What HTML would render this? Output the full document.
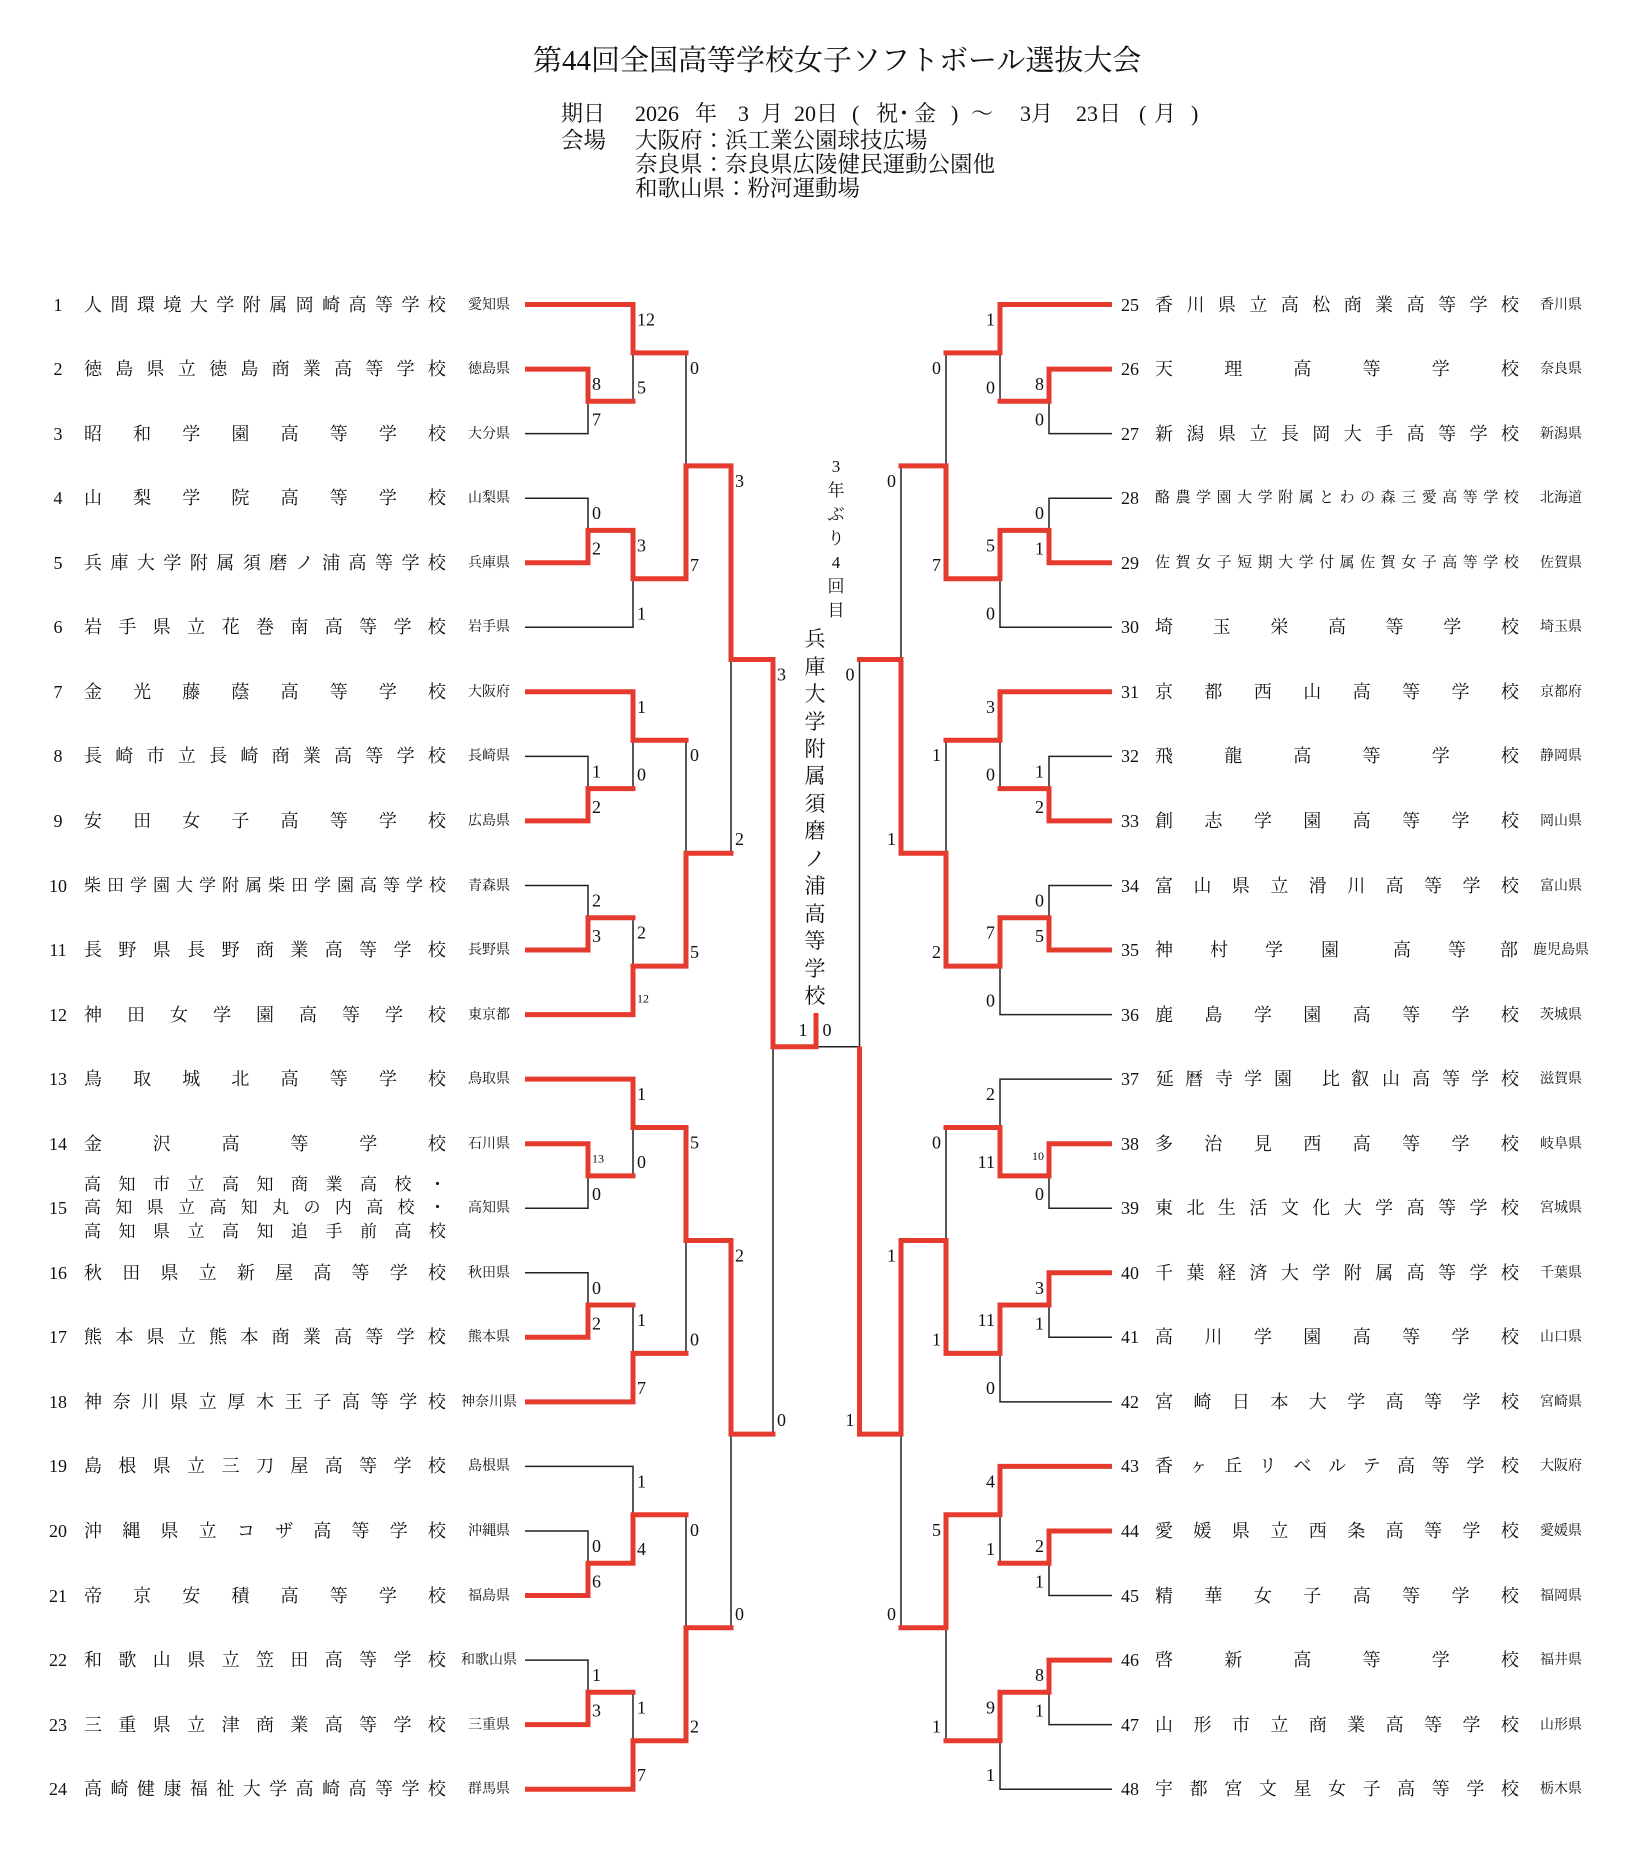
<!DOCTYPE html>
<html lang="ja"><head><meta charset="utf-8">
<style>
html,body{margin:0;padding:0;background:#fff}
body{width:1645px;height:1851px;position:relative;overflow:hidden;font-family:"Liberation Serif","Noto Serif CJK SC",serif;color:#111}
.t{position:absolute;white-space:nowrap;font-family:"Liberation Serif","Noto Serif CJK SC",serif}
.h{font-size:22px;line-height:30px}
.h2{font-size:22.5px;line-height:30px}
b{font-weight:normal}
.r{position:absolute;left:0;width:1645px;height:24px}
.r .no{position:absolute;top:0;width:40px;text-align:center;font-size:18px;line-height:24px}
.L .no{left:38px}.R .no{left:1110px}
.r .nm{position:absolute;top:0;height:24px;line-height:24px;display:flex;justify-content:space-between;font-size:18px;white-space:nowrap}
.L .nm{left:84px;width:362px}.R .nm{left:1155px;width:364px}
.r .pf{position:absolute;top:3px;width:80px;text-align:center;font-size:14px;line-height:20px;white-space:nowrap}
.L .pf{left:449px}.R .pf{left:1521px}
.r .sp{display:block}
.r .sp b{position:absolute;top:0}
.vt{position:absolute;width:30px;text-align:center}
</style></head>
<body>
<svg width="1645" height="1851" style="position:absolute;left:0;top:0">
<g fill="none" stroke="#222" stroke-width="1.5">
<path d="M525 304.5 H633 V401.3 M525 369.1 H588 V433.6 H525 M588 401.3 H633 M633 352.9 H686 V578.8 H633 M525 498.2 H588 V562.7 H525 M588 530.4 H633 M633 530.4 V627.3 H525 M686 465.9 H731"/>
<path d="M525 691.8 H633 V788.6 M525 756.4 H588 V820.9 H525 M588 788.6 H633 M633 740.2 H686 V966.1 H633 M525 885.5 H588 V950 H525 M588 917.7 H633 M633 917.7 V1014.6 H525 M686 853.2 H731"/>
<path d="M525 1079.1 H633 V1175.9 M525 1143.7 H588 V1208.2 H525 M588 1175.9 H633 M633 1127.5 H686 V1353.4 H633 M525 1272.8 H588 V1337.3 H525 M588 1305 H633 M633 1305 V1401.9 H525 M686 1240.5 H731"/>
<path d="M525 1466.4 H633 V1563.2 M525 1531 H588 V1595.5 H525 M588 1563.2 H633 M633 1514.8 H686 V1740.7 H633 M525 1660.1 H588 V1724.6 H525 M588 1692.3 H633 M633 1692.3 V1789.2 H525 M686 1627.8 H731"/>
<path d="M731 465.9 V853.2 M731 1240.5 V1627.8 M731 659.5 H773 V1434.1 H731 M773 1046.8 H859.5"/>
<path d="M1112 304.5 H1000 V401.3 M1112 369.1 H1049 V433.6 H1112 M1049 401.3 H1000 M1000 352.9 H946 V578.8 H1000 M1112 498.2 H1049 V562.7 H1112 M1049 530.4 H1000 M1000 530.4 V627.3 H1112 M946 465.9 H901"/>
<path d="M1112 691.8 H1000 V788.6 M1112 756.4 H1049 V820.9 H1112 M1049 788.6 H1000 M1000 740.2 H946 V966.1 H1000 M1112 885.5 H1049 V950 H1112 M1049 917.7 H1000 M1000 917.7 V1014.6 H1112 M946 853.2 H901"/>
<path d="M1112 1079.1 H1000 V1175.9 M1112 1143.7 H1049 V1208.2 H1112 M1049 1175.9 H1000 M1000 1127.5 H946 V1353.4 H1000 M1112 1272.8 H1049 V1337.3 H1112 M1049 1305 H1000 M1000 1305 V1401.9 H1112 M946 1240.5 H901"/>
<path d="M1112 1466.4 H1000 V1563.2 M1112 1531 H1049 V1595.5 H1112 M1049 1563.2 H1000 M1000 1514.8 H946 V1740.7 H1000 M1112 1660.1 H1049 V1724.6 H1112 M1049 1692.3 H1000 M1000 1692.3 V1789.2 H1112 M946 1627.8 H901"/>
<path d="M901 465.9 V853.2 M901 1240.5 V1627.8 M901 659.5 H859.5 V1434.1 H901"/>
</g>
<g fill="none" stroke="#e53b2f" stroke-width="5" stroke-linejoin="miter" stroke-linecap="square">
<path d="M527.5 369.1 H588 V401.3 H633"/>
<path d="M527.5 304.5 H633 V352.9 H686"/>
<path d="M527.5 562.7 H588 V530.4 H633 V578.8 H686 V465.9 H731 V659.5 H773 V1046.8 H816 V1015.5"/>
<path d="M527.5 820.9 H588 V788.6 H633"/>
<path d="M527.5 691.8 H633 V740.2 H686"/>
<path d="M527.5 950 H588 V917.7 H633"/>
<path d="M527.5 1014.6 H633 V966.1 H686 V853.2 H731"/>
<path d="M527.5 1143.7 H588 V1175.9 H633"/>
<path d="M527.5 1079.1 H633 V1127.5 H686 V1240.5 H731 V1434.1 H773"/>
<path d="M527.5 1337.3 H588 V1305 H633"/>
<path d="M527.5 1401.9 H633 V1353.4 H686"/>
<path d="M527.5 1595.5 H588 V1563.2 H633 V1514.8 H686"/>
<path d="M527.5 1724.6 H588 V1692.3 H633"/>
<path d="M527.5 1789.2 H633 V1740.7 H686 V1627.8 H731"/>
<path d="M1109.5 369.1 H1049 V401.3 H1000"/>
<path d="M1109.5 304.5 H1000 V352.9 H946"/>
<path d="M1109.5 562.7 H1049 V530.4 H1000 V578.8 H946 V465.9 H901"/>
<path d="M1109.5 820.9 H1049 V788.6 H1000"/>
<path d="M1109.5 691.8 H1000 V740.2 H946"/>
<path d="M1109.5 950 H1049 V917.7 H1000 V966.1 H946 V853.2 H901 V659.5 H859.5"/>
<path d="M1109.5 1143.7 H1049 V1175.9 H1000 V1127.5 H946"/>
<path d="M1109.5 1272.8 H1049 V1305 H1000 V1353.4 H946 V1240.5 H901 V1434.1 H859.5 V1049"/>
<path d="M1109.5 1531 H1049 V1563.2 H1000"/>
<path d="M1109.5 1466.4 H1000 V1514.8 H946 V1627.8 H901"/>
<path d="M1109.5 1660.1 H1049 V1692.3 H1000 V1740.7 H946"/>
</g>
<g font-family="Liberation Serif, Noto Serif CJK SC, serif" font-size="18" fill="#111">
<text x="592" y="390.1">8</text><text x="592" y="425.6">7</text><text x="637" y="325.5">12</text><text x="637" y="393.3">5</text>
<text x="592" y="519.2">0</text><text x="592" y="554.7">2</text><text x="637" y="551.4">3</text><text x="637" y="619.3">1</text>
<text x="690" y="373.9">0</text><text x="690" y="570.8">7</text>
<text x="592" y="777.4">1</text><text x="592" y="812.9">2</text><text x="637" y="712.8">1</text><text x="637" y="780.6">0</text>
<text x="592" y="906.5">2</text><text x="592" y="942">3</text><text x="637" y="938.7">2</text><text x="637" y="1002.6" font-size="12">12</text>
<text x="690" y="761.2">0</text><text x="690" y="958.1">5</text>
<text x="735" y="486.9">3</text><text x="735" y="845.2">2</text>
<text x="592" y="1162.3" font-size="12">13</text><text x="592" y="1200.2">0</text><text x="637" y="1100.1">1</text><text x="637" y="1167.9">0</text>
<text x="592" y="1293.8">0</text><text x="592" y="1329.3">2</text><text x="637" y="1326">1</text><text x="637" y="1393.9">7</text>
<text x="690" y="1148.5">5</text><text x="690" y="1345.4">0</text>
<text x="592" y="1552">0</text><text x="592" y="1587.5">6</text><text x="637" y="1487.4">1</text><text x="637" y="1555.2">4</text>
<text x="592" y="1681.1">1</text><text x="592" y="1716.6">3</text><text x="637" y="1713.3">1</text><text x="637" y="1781.2">7</text>
<text x="690" y="1535.8">0</text><text x="690" y="1732.7">2</text>
<text x="735" y="1261.5">2</text><text x="735" y="1619.8">0</text>
<text x="777" y="680.5">3</text><text x="777" y="1426.1">0</text>
<g text-anchor="end">
<text x="1044" y="390.1">8</text><text x="1044" y="425.6">0</text><text x="995" y="325.5">1</text><text x="995" y="393.3">0</text>
<text x="1044" y="519.2">0</text><text x="1044" y="554.7">1</text><text x="995" y="551.4">5</text><text x="995" y="619.3">0</text>
<text x="941" y="373.9">0</text><text x="941" y="570.8">7</text>
<text x="1044" y="777.4">1</text><text x="1044" y="812.9">2</text><text x="995" y="712.8">3</text><text x="995" y="780.6">0</text>
<text x="1044" y="906.5">0</text><text x="1044" y="942">5</text><text x="995" y="938.7">7</text><text x="995" y="1006.6">0</text>
<text x="941" y="761.2">1</text><text x="941" y="958.1">2</text>
<text x="896" y="486.9">0</text><text x="896" y="845.2">1</text>
<text x="1044" y="1160" font-size="12">10</text><text x="1044" y="1200.2">0</text><text x="995" y="1100.1">2</text><text x="995" y="1167.9">11</text>
<text x="1044" y="1293.8">3</text><text x="1044" y="1329.3">1</text><text x="995" y="1326">11</text><text x="995" y="1393.9">0</text>
<text x="941" y="1148.5">0</text><text x="941" y="1345.4">1</text>
<text x="1044" y="1552">2</text><text x="1044" y="1587.5">1</text><text x="995" y="1487.4">4</text><text x="995" y="1555.2">1</text>
<text x="1044" y="1681.1">8</text><text x="1044" y="1716.6">1</text><text x="995" y="1713.3">9</text><text x="995" y="1781.2">1</text>
<text x="941" y="1535.8">5</text><text x="941" y="1732.7">1</text>
<text x="896" y="1261.5">1</text><text x="896" y="1619.8">0</text>
<text x="854.5" y="680.5">0</text><text x="854.5" y="1426.1">1</text>
</g>
<text x="803" y="1036" text-anchor="middle">1</text><text x="827" y="1036" text-anchor="middle">0</text>
</g>
</svg>

<div class="t" style="left:533px;top:41px;font-size:29px;line-height:40px">第44回全国高等学校女子ソフトボール選抜大会</div>

<div class="t h" style="left:561px;top:99px">期日</div>
<div class="t h" style="left:635px;top:99px">2026</div>
<div class="t h" style="left:695px;top:99px">年</div>
<div class="t h" style="left:738px;top:99px">3</div>
<div class="t h" style="left:761px;top:99px">月</div>
<div class="t h" style="left:794px;top:99px">20日</div>
<div class="t h" style="left:852px;top:99px">(</div>
<div class="t h" style="left:876px;top:99px">祝</div>
<div class="t h" style="left:893px;top:99px">・</div>
<div class="t h" style="left:914px;top:99px">金</div>
<div class="t h" style="left:951px;top:99px">)</div>
<div class="t h" style="left:971px;top:99px">〜</div>
<div class="t h" style="left:1020px;top:99px">3月</div>
<div class="t h" style="left:1076px;top:99px">23</div>
<div class="t h" style="left:1099px;top:99px">日</div>
<div class="t h" style="left:1139px;top:99px">(</div>
<div class="t h" style="left:1154px;top:99px">月</div>
<div class="t h" style="left:1191px;top:99px">)</div>
<div class="t h2" style="left:561px;top:126px">会場</div>
<div class="t h2" style="left:635px;top:126px">大阪府：浜工業公園球技広場</div>
<div class="t h2" style="left:635px;top:150px">奈良県：奈良県広陵健民運動公園他</div>
<div class="t h2" style="left:635px;top:173.5px">和歌山県：粉河運動場</div>

<div class="vt" style="left:821px;top:454.5px;font-size:17px;line-height:24px">3<br>年<br>ぶ<br>り<br>4<br>回<br>目</div>
<div class="vt" style="left:800px;top:626.3px;font-size:21px;line-height:27.44px">兵<br>庫<br>大<br>学<br>附<br>属<br>須<br>磨<br>ノ<br>浦<br>高<br>等<br>学<br>校</div>

<!-- LEFT ROWS -->
<div class="r L" style="top:292.5px"><span class="no">1</span><div class="nm"><b>人</b><b>間</b><b>環</b><b>境</b><b>大</b><b>学</b><b>附</b><b>属</b><b>岡</b><b>崎</b><b>高</b><b>等</b><b>学</b><b>校</b></div><span class="pf">愛知県</span></div>
<div class="r L" style="top:357.1px"><span class="no">2</span><div class="nm"><b>徳</b><b>島</b><b>県</b><b>立</b><b>徳</b><b>島</b><b>商</b><b>業</b><b>高</b><b>等</b><b>学</b><b>校</b></div><span class="pf">徳島県</span></div>
<div class="r L" style="top:421.6px"><span class="no">3</span><div class="nm"><b>昭</b><b>和</b><b>学</b><b>園</b><b>高</b><b>等</b><b>学</b><b>校</b></div><span class="pf">大分県</span></div>
<div class="r L" style="top:486.2px"><span class="no">4</span><div class="nm"><b>山</b><b>梨</b><b>学</b><b>院</b><b>高</b><b>等</b><b>学</b><b>校</b></div><span class="pf">山梨県</span></div>
<div class="r L" style="top:550.7px"><span class="no">5</span><div class="nm"><b>兵</b><b>庫</b><b>大</b><b>学</b><b>附</b><b>属</b><b>須</b><b>磨</b><b>ノ</b><b>浦</b><b>高</b><b>等</b><b>学</b><b>校</b></div><span class="pf">兵庫県</span></div>
<div class="r L" style="top:615.3px"><span class="no">6</span><div class="nm"><b>岩</b><b>手</b><b>県</b><b>立</b><b>花</b><b>巻</b><b>南</b><b>高</b><b>等</b><b>学</b><b>校</b></div><span class="pf">岩手県</span></div>
<div class="r L" style="top:679.8px"><span class="no">7</span><div class="nm"><b>金</b><b>光</b><b>藤</b><b>蔭</b><b>高</b><b>等</b><b>学</b><b>校</b></div><span class="pf">大阪府</span></div>
<div class="r L" style="top:744.4px"><span class="no">8</span><div class="nm"><b>長</b><b>崎</b><b>市</b><b>立</b><b>長</b><b>崎</b><b>商</b><b>業</b><b>高</b><b>等</b><b>学</b><b>校</b></div><span class="pf">長崎県</span></div>
<div class="r L" style="top:808.9px"><span class="no">9</span><div class="nm"><b>安</b><b>田</b><b>女</b><b>子</b><b>高</b><b>等</b><b>学</b><b>校</b></div><span class="pf">広島県</span></div>
<div class="r L" style="top:873.5px"><span class="no">10</span><div class="nm" style="font-size:17px"><b>柴</b><b>田</b><b>学</b><b>園</b><b>大</b><b>学</b><b>附</b><b>属</b><b>柴</b><b>田</b><b>学</b><b>園</b><b>高</b><b>等</b><b>学</b><b>校</b></div><span class="pf">青森県</span></div>
<div class="r L" style="top:938px"><span class="no">11</span><div class="nm"><b>長</b><b>野</b><b>県</b><b>長</b><b>野</b><b>商</b><b>業</b><b>高</b><b>等</b><b>学</b><b>校</b></div><span class="pf">長野県</span></div>
<div class="r L" style="top:1002.6px"><span class="no">12</span><div class="nm"><b>神</b><b>田</b><b>女</b><b>学</b><b>園</b><b>高</b><b>等</b><b>学</b><b>校</b></div><span class="pf">東京都</span></div>
<div class="r L" style="top:1067.1px"><span class="no">13</span><div class="nm"><b>鳥</b><b>取</b><b>城</b><b>北</b><b>高</b><b>等</b><b>学</b><b>校</b></div><span class="pf">鳥取県</span></div>
<div class="r L" style="top:1131.7px"><span class="no">14</span><div class="nm"><b>金</b><b>沢</b><b>高</b><b>等</b><b>学</b><b>校</b></div><span class="pf">石川県</span></div>
<div class="r L" style="top:1196.2px"><span class="no">15</span>
<div class="nm" style="top:-23.2px;font-size:17px"><b>高</b><b>知</b><b>市</b><b>立</b><b>高</b><b>知</b><b>商</b><b>業</b><b>高</b><b>校</b><b>・</b></div>
<div class="nm" style="top:0;font-size:17px"><b>高</b><b>知</b><b>県</b><b>立</b><b>高</b><b>知</b><b>丸</b><b>の</b><b>内</b><b>高</b><b>校</b><b>・</b></div>
<div class="nm" style="top:23.5px;font-size:17px"><b>高</b><b>知</b><b>県</b><b>立</b><b>高</b><b>知</b><b>追</b><b>手</b><b>前</b><b>高</b><b>校</b></div>
<span class="pf">高知県</span></div>
<div class="r L" style="top:1260.8px"><span class="no">16</span><div class="nm"><b>秋</b><b>田</b><b>県</b><b>立</b><b>新</b><b>屋</b><b>高</b><b>等</b><b>学</b><b>校</b></div><span class="pf">秋田県</span></div>
<div class="r L" style="top:1325.3px"><span class="no">17</span><div class="nm"><b>熊</b><b>本</b><b>県</b><b>立</b><b>熊</b><b>本</b><b>商</b><b>業</b><b>高</b><b>等</b><b>学</b><b>校</b></div><span class="pf">熊本県</span></div>
<div class="r L" style="top:1389.9px"><span class="no">18</span><div class="nm"><b>神</b><b>奈</b><b>川</b><b>県</b><b>立</b><b>厚</b><b>木</b><b>王</b><b>子</b><b>高</b><b>等</b><b>学</b><b>校</b></div><span class="pf">神奈川県</span></div>
<div class="r L" style="top:1454.4px"><span class="no">19</span><div class="nm"><b>島</b><b>根</b><b>県</b><b>立</b><b>三</b><b>刀</b><b>屋</b><b>高</b><b>等</b><b>学</b><b>校</b></div><span class="pf">島根県</span></div>
<div class="r L" style="top:1519px"><span class="no">20</span><div class="nm"><b>沖</b><b>縄</b><b>県</b><b>立</b><b>コ</b><b>ザ</b><b>高</b><b>等</b><b>学</b><b>校</b></div><span class="pf">沖縄県</span></div>
<div class="r L" style="top:1583.5px"><span class="no">21</span><div class="nm"><b>帝</b><b>京</b><b>安</b><b>積</b><b>高</b><b>等</b><b>学</b><b>校</b></div><span class="pf">福島県</span></div>
<div class="r L" style="top:1648.1px"><span class="no">22</span><div class="nm"><b>和</b><b>歌</b><b>山</b><b>県</b><b>立</b><b>笠</b><b>田</b><b>高</b><b>等</b><b>学</b><b>校</b></div><span class="pf">和歌山県</span></div>
<div class="r L" style="top:1712.6px"><span class="no">23</span><div class="nm"><b>三</b><b>重</b><b>県</b><b>立</b><b>津</b><b>商</b><b>業</b><b>高</b><b>等</b><b>学</b><b>校</b></div><span class="pf">三重県</span></div>
<div class="r L" style="top:1777.2px"><span class="no">24</span><div class="nm"><b>高</b><b>崎</b><b>健</b><b>康</b><b>福</b><b>祉</b><b>大</b><b>学</b><b>高</b><b>崎</b><b>高</b><b>等</b><b>学</b><b>校</b></div><span class="pf">群馬県</span></div>

<!-- RIGHT ROWS -->
<div class="r R" style="top:292.5px"><span class="no">25</span><div class="nm"><b>香</b><b>川</b><b>県</b><b>立</b><b>高</b><b>松</b><b>商</b><b>業</b><b>高</b><b>等</b><b>学</b><b>校</b></div><span class="pf">香川県</span></div>
<div class="r R" style="top:357.1px"><span class="no">26</span><div class="nm"><b>天</b><b>理</b><b>高</b><b>等</b><b>学</b><b>校</b></div><span class="pf">奈良県</span></div>
<div class="r R" style="top:421.6px"><span class="no">27</span><div class="nm"><b>新</b><b>潟</b><b>県</b><b>立</b><b>長</b><b>岡</b><b>大</b><b>手</b><b>高</b><b>等</b><b>学</b><b>校</b></div><span class="pf">新潟県</span></div>
<div class="r R" style="top:486.2px"><span class="no">28</span><div class="nm" style="font-size:15px"><b>酪</b><b>農</b><b>学</b><b>園</b><b>大</b><b>学</b><b>附</b><b>属</b><b>と</b><b>わ</b><b>の</b><b>森</b><b>三</b><b>愛</b><b>高</b><b>等</b><b>学</b><b>校</b></div><span class="pf">北海道</span></div>
<div class="r R" style="top:550.7px"><span class="no">29</span><div class="nm" style="font-size:15px"><b>佐</b><b>賀</b><b>女</b><b>子</b><b>短</b><b>期</b><b>大</b><b>学</b><b>付</b><b>属</b><b>佐</b><b>賀</b><b>女</b><b>子</b><b>高</b><b>等</b><b>学</b><b>校</b></div><span class="pf">佐賀県</span></div>
<div class="r R" style="top:615.3px"><span class="no">30</span><div class="nm"><b>埼</b><b>玉</b><b>栄</b><b>高</b><b>等</b><b>学</b><b>校</b></div><span class="pf">埼玉県</span></div>
<div class="r R" style="top:679.8px"><span class="no">31</span><div class="nm"><b>京</b><b>都</b><b>西</b><b>山</b><b>高</b><b>等</b><b>学</b><b>校</b></div><span class="pf">京都府</span></div>
<div class="r R" style="top:744.4px"><span class="no">32</span><div class="nm"><b>飛</b><b>龍</b><b>高</b><b>等</b><b>学</b><b>校</b></div><span class="pf">静岡県</span></div>
<div class="r R" style="top:808.9px"><span class="no">33</span><div class="nm"><b>創</b><b>志</b><b>学</b><b>園</b><b>高</b><b>等</b><b>学</b><b>校</b></div><span class="pf">岡山県</span></div>
<div class="r R" style="top:873.5px"><span class="no">34</span><div class="nm"><b>富</b><b>山</b><b>県</b><b>立</b><b>滑</b><b>川</b><b>高</b><b>等</b><b>学</b><b>校</b></div><span class="pf">富山県</span></div>
<div class="r R" style="top:938px"><span class="no">35</span><div class="nm sp"><b style="left:0">神</b><b style="left:55px">村</b><b style="left:110px">学</b><b style="left:166px">園</b><b style="left:238px">高</b><b style="left:293px">等</b><b style="left:345px">部</b></div><span class="pf">鹿児島県</span></div>
<div class="r R" style="top:1002.6px"><span class="no">36</span><div class="nm"><b>鹿</b><b>島</b><b>学</b><b>園</b><b>高</b><b>等</b><b>学</b><b>校</b></div><span class="pf">茨城県</span></div>
<div class="r R" style="top:1067.1px"><span class="no">37</span><div class="nm sp"><b style="left:1px">延</b><b style="left:30px">暦</b><b style="left:60px">寺</b><b style="left:89px">学</b><b style="left:119px">園</b><b style="left:167px">比</b><b style="left:196px">叡</b><b style="left:227px">山</b><b style="left:257px">高</b><b style="left:287px">等</b><b style="left:316px">学</b><b style="left:346px">校</b></div><span class="pf">滋賀県</span></div>
<div class="r R" style="top:1131.7px"><span class="no">38</span><div class="nm"><b>多</b><b>治</b><b>見</b><b>西</b><b>高</b><b>等</b><b>学</b><b>校</b></div><span class="pf">岐阜県</span></div>
<div class="r R" style="top:1196.2px"><span class="no">39</span><div class="nm"><b>東</b><b>北</b><b>生</b><b>活</b><b>文</b><b>化</b><b>大</b><b>学</b><b>高</b><b>等</b><b>学</b><b>校</b></div><span class="pf">宮城県</span></div>
<div class="r R" style="top:1260.8px"><span class="no">40</span><div class="nm"><b>千</b><b>葉</b><b>経</b><b>済</b><b>大</b><b>学</b><b>附</b><b>属</b><b>高</b><b>等</b><b>学</b><b>校</b></div><span class="pf">千葉県</span></div>
<div class="r R" style="top:1325.3px"><span class="no">41</span><div class="nm"><b>高</b><b>川</b><b>学</b><b>園</b><b>高</b><b>等</b><b>学</b><b>校</b></div><span class="pf">山口県</span></div>
<div class="r R" style="top:1389.9px"><span class="no">42</span><div class="nm"><b>宮</b><b>崎</b><b>日</b><b>本</b><b>大</b><b>学</b><b>高</b><b>等</b><b>学</b><b>校</b></div><span class="pf">宮崎県</span></div>
<div class="r R" style="top:1454.4px"><span class="no">43</span><div class="nm"><b>香</b><b>ヶ</b><b>丘</b><b>リ</b><b>ベ</b><b>ル</b><b>テ</b><b>高</b><b>等</b><b>学</b><b>校</b></div><span class="pf">大阪府</span></div>
<div class="r R" style="top:1519px"><span class="no">44</span><div class="nm"><b>愛</b><b>媛</b><b>県</b><b>立</b><b>西</b><b>条</b><b>高</b><b>等</b><b>学</b><b>校</b></div><span class="pf">愛媛県</span></div>
<div class="r R" style="top:1583.5px"><span class="no">45</span><div class="nm"><b>精</b><b>華</b><b>女</b><b>子</b><b>高</b><b>等</b><b>学</b><b>校</b></div><span class="pf">福岡県</span></div>
<div class="r R" style="top:1648.1px"><span class="no">46</span><div class="nm"><b>啓</b><b>新</b><b>高</b><b>等</b><b>学</b><b>校</b></div><span class="pf">福井県</span></div>
<div class="r R" style="top:1712.6px"><span class="no">47</span><div class="nm"><b>山</b><b>形</b><b>市</b><b>立</b><b>商</b><b>業</b><b>高</b><b>等</b><b>学</b><b>校</b></div><span class="pf">山形県</span></div>
<div class="r R" style="top:1777.2px"><span class="no">48</span><div class="nm"><b>宇</b><b>都</b><b>宮</b><b>文</b><b>星</b><b>女</b><b>子</b><b>高</b><b>等</b><b>学</b><b>校</b></div><span class="pf">栃木県</span></div>
</body></html>
